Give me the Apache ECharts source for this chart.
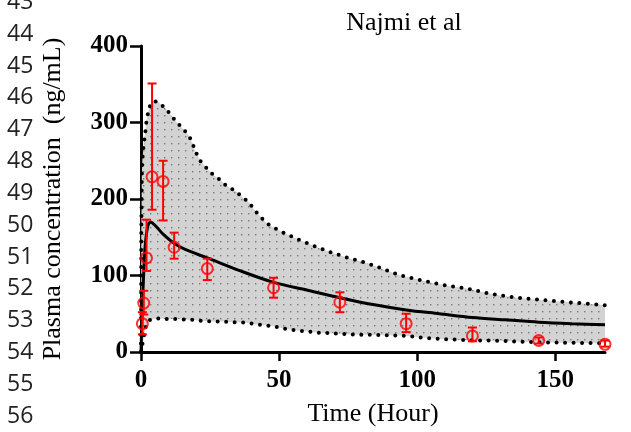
<!DOCTYPE html>
<html>
<head>
<meta charset="utf-8">
<script src="https://cdn.jsdelivr.net/npm/echarts@6/dist/echarts.min.js"></script>
<style>
html,body{margin:0;padding:0;background:#fff;}
#chart{width:631px;height:432px;}
</style>
</head>
<body>
<div id="chart"></div>
<script>
// ---- data ----
var obsTime  = [0.5, 1, 2, 4, 8, 12, 24, 48, 72, 96, 120, 144, 168];
var obsMean  = [37, 64, 123, 229, 223, 137, 109, 84, 65, 37, 21, 15, 10];
var obsLow   = [23, 49, 106, 186, 172, 122, 94, 71, 52, 26, 14, 11, 7];
var obsHigh  = [52, 80, 173, 351, 250, 156, 122, 97, 78, 50, 32, 19, 15];

var predTime = [0, 0.25, 0.5, 1, 1.5, 2, 2.5, 3, 3.5, 4, 6, 8, 12, 16, 24, 36, 48, 60, 72, 84, 96, 108, 120, 132, 144, 156, 168];
var predConc = [0, 30, 60, 105, 138, 155, 165, 169, 169.5, 169, 162, 154, 142, 134, 123, 106, 91, 81, 71, 62, 55, 50, 45, 42, 39, 37, 35.5];

var bandTime  = [0, 0.1, 0.3, 0.5, 1, 1.5, 2, 2.7, 3.5, 5, 6.5, 9, 13, 15.4, 17.5, 18.8, 20, 21.4, 23.6, 26, 28.7, 31, 34, 36.5, 39, 41, 43.2, 45.6, 48.4, 51, 54, 57, 60, 63, 66, 69.3, 76, 82, 88, 94, 100, 106, 112, 118, 124, 130, 136, 142, 148, 155, 160, 165, 168];
var bandUpper = [0, 150, 230, 252, 272, 285, 302, 315, 325, 328, 326, 318, 300, 291, 282, 271, 260, 250, 241, 232, 225, 217, 211, 203, 196, 186, 177, 168, 162, 157, 152, 147, 142.5, 138, 134, 129.5, 122, 116, 108, 100, 95, 90, 86, 83, 78, 74, 71, 69, 67, 65, 63.5, 62, 61];
var bandLower = [0, 3, 7, 10, 20, 30, 36, 41, 42, 43, 44, 43, 43, 42.5, 42, 42, 41.5, 41, 40.5, 40, 39.8, 39.5, 39, 38.5, 38, 36.5, 35.5, 34.5, 33.5, 31, 29.5, 28, 27, 25.5, 25, 24.5, 23, 22.5, 22, 21.5, 19.5, 17.5, 16.5, 15.5, 15, 14.7, 13.7, 12.8, 12.4, 12, 11.8, 11.6, 11.5];

var xTicks = [0, 50, 100, 150];
var yTicks = [0, 100, 200, 300, 400];
var lineNumbers = [43, 44, 45, 46, 47, 48, 49, 50, 51, 52, 53, 54, 55, 56];

// ---- dot pattern ----
var pat = document.createElement('canvas');
pat.width = 7; pat.height = 7;
var pctx = pat.getContext('2d');
pctx.fillStyle = '#d3d3d3';
pctx.fillRect(0, 0, 7, 7);
pctx.fillStyle = '#7a7a7a';
pctx.fillRect(3, 3, 1.4, 1.4);

function zip(a, b) { return a.map(function (v, i) { return [v, b[i]]; }); }

var chart = echarts.init(document.getElementById('chart'), null, {renderer: 'canvas'});

var graphics = lineNumbers.map(function (n, i) {
  return {
    type: 'text', left: 7, top: 1.8 + i * 31.85 - 11,
    style: {text: String(n), font: '23px "Open Sans"', fill: '#222'}
  };
});

var option = {
  animation: false,
  backgroundColor: '#fff',
  title: {
    text: 'Najmi et al', left: 399, top: 5, textAlign: 'center',
    textStyle: {fontFamily: 'Liberation Serif', fontWeight: 'normal', fontSize: 26, color: '#000'}
  },
  graphic: graphics,
  grid: {left: 141, right: 26, top: 46, bottom: 78},
  xAxis: {
    type: 'value', min: 0, max: 168, interval: 50,
    name: 'Time (Hour)', nameLocation: 'middle', nameGap: 49,
    nameTextStyle: {fontFamily: 'Liberation Serif', fontSize: 26, color: '#000'},
    axisLine: {onZero: false, lineStyle: {color: '#000', width: 3}},
    axisTick: {length: 9, lineStyle: {width: 2.5, color: '#000'}, customValues: xTicks},
    axisLabel: {customValues: xTicks, margin: 16, fontFamily: 'Liberation Serif', fontWeight: 'bold', fontSize: 25, color: '#000'},
    splitLine: {show: false}
  },
  yAxis: {
    type: 'value', min: 0, max: 400, interval: 100,
    name: 'Plasma concentration  (ng/mL)', nameLocation: 'middle', nameGap: 75,
    nameTextStyle: {fontFamily: 'Liberation Serif', fontSize: 26, color: '#000'},
    axisLine: {show: true, lineStyle: {color: '#000', width: 3}},
    axisTick: {show: true, length: 11, lineStyle: {width: 2.5, color: '#000'}, customValues: yTicks},
    axisLabel: {customValues: yTicks, margin: 13, fontFamily: 'Liberation Serif', fontWeight: 'bold', fontSize: 25, color: '#000'},
    splitLine: {show: false}
  },
  series: [
    {
      type: 'custom', z: 1,
      data: bandTime.map(function (t, i) { return [t, bandUpper[i], bandLower[i]]; }),
      encode: {x: 0, y: [1, 2]},
      renderItem: function (params, api) {
        if (params.dataIndex !== 0) return null;
        var pts = [];
        for (var i = 0; i < bandTime.length; i++) pts.push(api.coord([bandTime[i], bandUpper[i]]));
        for (var j = bandTime.length - 1; j >= 0; j--) pts.push(api.coord([bandTime[j], bandLower[j]]));
        return {type: 'polygon', shape: {points: pts}, style: {fill: {image: pat, repeat: 'repeat'}, stroke: null}};
      },
      silent: true
    },
    {
      type: 'line', z: 2, data: zip(bandTime, bandUpper), showSymbol: false,
      lineStyle: {color: '#000', width: 4, type: [0, 8.5], cap: 'round'}
    },
    {
      type: 'line', z: 2, data: zip(bandTime, bandLower), showSymbol: false,
      lineStyle: {color: '#000', width: 4, type: [0, 8.5], cap: 'round'}
    },
    {
      type: 'line', z: 3, data: zip(predTime, predConc), showSymbol: false, smooth: 0.3,
      lineStyle: {color: '#000', width: 3}
    },
    {
      type: 'custom', z: 4,
      data: obsTime.map(function (t, i) { return [t, obsLow[i], obsHigh[i]]; }),
      encode: {x: 0, y: [1, 2]},
      renderItem: function (params, api) {
        var t = api.value(0);
        var lo = api.coord([t, api.value(1)]);
        var hi = api.coord([t, api.value(2)]);
        var w = 4.5;
        var st = {stroke: '#ff0000', lineWidth: 2};
        return {type: 'group', children: [
          {type: 'line', shape: {x1: lo[0], y1: lo[1], x2: hi[0], y2: hi[1]}, style: st},
          {type: 'line', shape: {x1: lo[0] - w, y1: lo[1], x2: lo[0] + w, y2: lo[1]}, style: st},
          {type: 'line', shape: {x1: hi[0] - w, y1: hi[1], x2: hi[0] + w, y2: hi[1]}, style: st}
        ]};
      }
    },
    {
      type: 'scatter', z: 5, data: zip(obsTime, obsMean), symbol: 'circle', symbolSize: 11,
      itemStyle: {color: 'rgba(0,0,0,0)', borderColor: '#ff0000', borderWidth: 2}
    }
  ]
};
chart.setOption(option);
</script>
</body>
</html>
